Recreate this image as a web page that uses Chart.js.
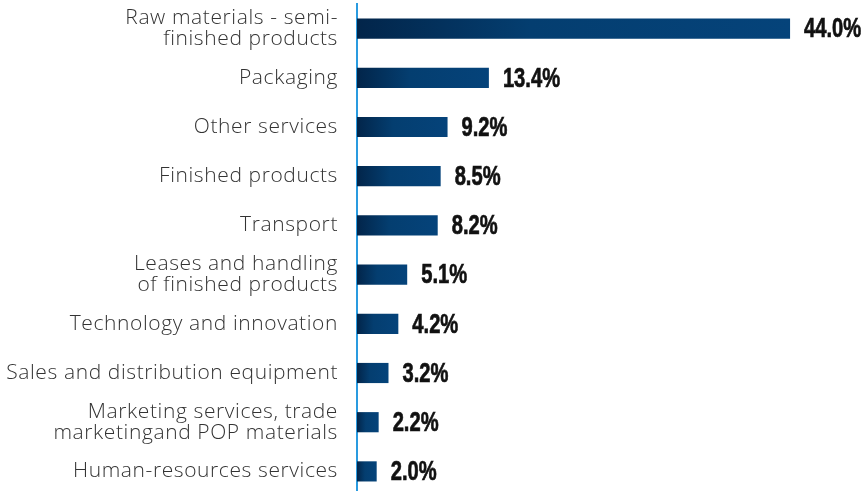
<!DOCTYPE html>
<html>
<head>
<meta charset="utf-8">
<script src="https://cdn.jsdelivr.net/npm/chart.js@4.4.1/dist/chart.umd.min.js"></script>
<style>
  html, body { margin: 0; padding: 0; background: #fff; overflow: hidden; }
  #wrap { width: 862px; height: 500px; position: relative; }
</style>
</head>
<body>
<div id="wrap"><canvas id="costChart"></canvas></div>
<script>
const categories = [
    ['Raw materials - semi-', 'finished products'],
    'Packaging',
    'Other services',
    'Finished products',
    'Transport',
    ['Leases and handling', 'of finished products'],
    'Technology and innovation',
    'Sales and distribution equipment',
    ['Marketing services, trade', 'marketingand POP materials'],
    'Human-resources services',
];
const shares = [44.0, 13.4, 9.2, 8.5, 8.2, 5.1, 4.2, 3.2, 2.2, 2.0];

// dark-to-blue fill along each bar
function barGradient(context) {
    const chart = context.chart;
    const { ctx, chartArea, scales } = chart;
    if (!chartArea || context.dataIndex === undefined) return '#05437a';
    const x0 = scales.x.getPixelForValue(0);
    const x1 = scales.x.getPixelForValue(shares[context.dataIndex]);
    const g = ctx.createLinearGradient(x0, 0, x1, 0);
    g.addColorStop(0, '#02254a');
    g.addColorStop(0.4, '#043e70');
    g.addColorStop(1, '#05437a');
    return g;
}

// a touch of tracking on the category labels only
const labelTracking = {
    id: 'labelTracking',
    beforeDraw(chart) { chart.ctx.letterSpacing = '0.6px'; },
    beforeDatasetsDraw(chart) { chart.ctx.letterSpacing = '0px'; },
};

// percentage text after each bar, squeezed to a condensed look
const valueLabels = {
    id: 'valueLabels',
    afterDatasetsDraw(chart) {
        const { ctx } = chart;
        const meta = chart.getDatasetMeta(0);
        const squeeze = 0.72;
        ctx.save();
        ctx.fillStyle = '#111';
        ctx.strokeStyle = '#111';
        ctx.lineWidth = 0.7;
        ctx.font = 'bold 28px "Liberation Sans", Arial, sans-serif';
        ctx.textAlign = 'left';
        ctx.textBaseline = 'middle';
        meta.data.forEach((bar, i) => {
            const text = shares[i].toFixed(1) + '%';
            ctx.save();
            ctx.translate(bar.x + 14, bar.y + 1);
            ctx.scale(squeeze, 1);
            ctx.fillText(text, 0, 0);
            ctx.strokeText(text, 0, 0);
            ctx.restore();
        });
        ctx.restore();
    },
};

new Chart(document.getElementById('costChart'), {
    type: 'bar',
    data: {
        labels: categories,
        datasets: [{
            data: shares,
            backgroundColor: barGradient,
            borderWidth: 0,
            categoryPercentage: 1,
            barPercentage: 0.41,
        }],
    },
    options: {
        indexAxis: 'y',
        responsive: true,
        maintainAspectRatio: false,
        animation: false,
        layout: { padding: { top: 4, bottom: 4, left: 0, right: 5 } },
        plugins: {
            legend: { display: false },
            tooltip: { enabled: false },
        },
        scales: {
            x: {
                display: false,
                min: 0,
                max: 50.8,
            },
            y: {
                afterFit(scale) {
                    scale.width = 357;
                    scale.paddingTop = 0;
                    scale.paddingBottom = 0;
                },
                grid: { display: false },
                border: { display: true, color: '#2a9be0', width: 2 },
                ticks: {
                    color: '#333',
                    padding: 11,
                    font: { family: '"Open Sans", sans-serif', size: 21, weight: '300', lineHeight: 1.0 },
                },
            },
        },
    },
    plugins: [labelTracking, valueLabels],
});
</script>
</body>
</html>
